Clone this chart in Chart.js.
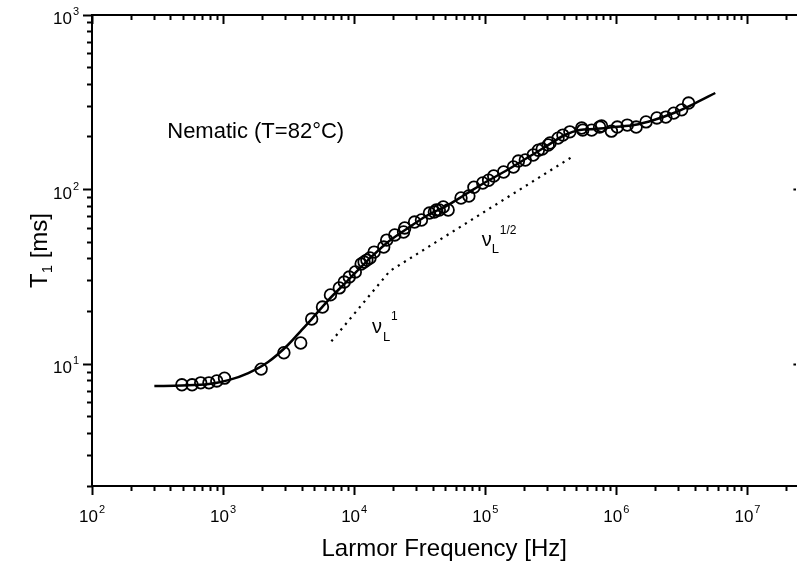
<!DOCTYPE html>
<html>
<head>
<meta charset="utf-8">
<title>T1 Nematic</title>
<script src="https://cdn.jsdelivr.net/npm/chart.js@4.4.0/dist/chart.umd.min.js"></script>
<style>
  html, body { margin: 0; padding: 0; background: #fff; }
  #marco { width: 804px; height: 568px; }
</style>
</head>
<body>
<div id="marco"><canvas id="lienzoGrafica" width="804" height="568"></canvas></div>
<script>
'use strict';

// medidas (frecuencia de Larmor en Hz, T1 en ms)
const frecuencias = [485, 580, 675, 780, 895, 1025, 1950, 2910, 3910, 4740, 5730, 6590, 7700, 8400, 9170,
    10200, 11300, 11900, 12500, 13200, 14200, 16800, 17700, 20400, 23800, 24300, 28900, 32600, 37500, 40900,
    42300, 44600, 47800, 52100, 65300, 75000, 81900, 95700, 106000, 116000, 138000, 164000, 179000, 202000,
    232000, 254000, 272000, 302000, 312000, 359000, 391000, 442000, 544000, 554000, 648000, 745000, 771000,
    917000, 1017000, 1211000, 1416000, 1684000, 2038000, 2384000, 2740000, 3149000, 3556000];
const t1Medidos = [7.6, 7.6, 7.8, 7.8, 8.0, 8.3, 9.35, 11.6, 13.2, 18.1, 21.2, 24.9, 27.3, 29.5, 31.5,
    33.7, 37.4, 38.4, 39.4, 40.5, 43.8, 46.8, 51.3, 54.9, 57.1, 60.2, 65.1, 66.9, 73.3, 74.3,
    76.3, 76.3, 79.4, 76.3, 89.4, 91.8, 103, 109, 113, 119.5, 126, 134.6, 145.6, 147.6,
    157.7, 168, 170.7, 180, 184.7, 197, 205, 214, 225, 219, 219, 228, 231,
    216, 228, 234, 228, 244, 257, 260, 274, 286, 313];

// curva de ajuste
const ajusteFrec = [299, 486, 778, 1100, 1558, 2205, 3121, 3913, 4738, 6255, 8856, 12530, 17740, 25120,
    35560, 50340, 71270, 100900, 142800, 202200, 286200, 405100, 525800, 682300, 965800, 1367000,
    1936000, 2740000, 3879000, 5684000];
const ajusteT1 = [7.48, 7.53, 7.68, 8.09, 8.88, 10.27, 12.85, 15.45, 18.1, 22.96, 29.9, 38.9, 49.4, 59.4,
    70.5, 80.4, 94.2, 110.4, 127.6, 149.5, 175.3, 205.3, 219.3, 222.2, 228.1, 234.2,
    250.2, 274.4, 309, 357.3];

// rectas guia nu^1 y nu^1/2
const guiaFrec = [6700, 18700, 457000];
const guiaT1 = [13.5, 34.1, 153.5];

const decadasX = [1e2, 1e3, 1e4, 1e5, 1e6, 1e7];
const decadasY = [1e1, 1e2, 1e3];

const FUENTE = "'Liberation Sans', Arial, Helvetica, sans-serif";
const X_MIN = 100, X_MAX = 2.363e7;
const Y_MIN = 2, Y_MAX = 1000;

// marcas menores 2..9 de cada decada, dentro del rango
function menores(decadas, min, max) {
    const lista = [];
    decadas.forEach(d => {
        for (let k = 2; k <= 9; k++) {
            const v = d * k;
            if (v >= min && v <= max) lista.push(v);
        }
    });
    return lista;
}
const menoresX = menores([1e2, 1e3, 1e4, 1e5, 1e6, 1e7], X_MIN, X_MAX);
const menoresY = menores([1, 1e1, 1e2], Y_MIN, Y_MAX);

function potencia(ctx, exp, x, y, alinear) {
    ctx.font = '17px ' + FUENTE;
    const wBase = ctx.measureText('10').width;
    ctx.font = '11px ' + FUENTE;
    const wExp = ctx.measureText(String(exp)).width;
    const total = wBase + 1 + wExp;
    const x0 = alinear === 'right' ? x - total : x - total / 2;
    ctx.font = '17px ' + FUENTE;
    ctx.fillText('10', x0, y);
    ctx.font = '11px ' + FUENTE;
    ctx.fillText(String(exp), x0 + wBase + 1, y - 9);
}

const textos = {
    id: 'textos',
    afterDraw(chart) {
        const ctx = chart.ctx;
        const sx = chart.scales.x, sy = chart.scales.y;
        ctx.save();
        ctx.fillStyle = '#000';
        ctx.textAlign = 'left';
        ctx.textBaseline = 'alphabetic';

        decadasX.forEach(v => potencia(ctx, Math.round(Math.log10(v)), sx.getPixelForValue(v), 522, 'center'));
        decadasY.forEach(v => potencia(ctx, Math.round(Math.log10(v)), 79, sy.getPixelForValue(v) + 9, 'right'));

        // titulo eje Y con subindice
        ctx.save();
        ctx.translate(47, (chart.chartArea.top + chart.chartArea.bottom) / 2);
        ctx.rotate(-Math.PI / 2);
        ctx.font = '24px ' + FUENTE;
        const wT = ctx.measureText('T').width;
        const wR = ctx.measureText(' [ms]').width;
        ctx.font = '15px ' + FUENTE;
        const w1 = ctx.measureText('1').width;
        const x0 = -(wT + w1 + wR) / 2;
        ctx.font = '24px ' + FUENTE;
        ctx.fillText('T', x0, 0);
        ctx.fillText(' [ms]', x0 + wT + w1, 0);
        ctx.font = '15px ' + FUENTE;
        ctx.fillText('1', x0 + wT, 5);
        ctx.restore();

        // Nematic
        ctx.font = '22px ' + FUENTE;
        ctx.fillText('Nematic (T=82°C)', sx.getPixelForValue(375), sy.getPixelForValue(197));

        // nu_L^1
        let px = sx.getPixelForValue(13670), py = sy.getPixelForValue(15.06);
        ctx.font = '20px ' + FUENTE;
        ctx.fillText('ν', px, py);
        ctx.font = '13px ' + FUENTE;
        ctx.fillText('L', px + 11, py + 8);
        ctx.font = '12px ' + FUENTE;
        ctx.fillText('1', px + 19, py - 13);

        // nu_L^1/2
        px = sx.getPixelForValue(94100); py = sy.getPixelForValue(47.45);
        ctx.font = '20px ' + FUENTE;
        ctx.fillText('ν', px, py);
        ctx.font = '13px ' + FUENTE;
        ctx.fillText('L', px + 10, py + 7);
        ctx.font = '12px ' + FUENTE;
        ctx.fillText('1/2', px + 18, py - 12);
        ctx.restore();
    }
};

function ejeLog(pos, min, max, valores, largo, peso, tam, conBorde, titulo) {
    const horizontal = pos === 'bottom' || pos === 'top';
    const eje = {
        type: 'logarithmic',
        position: pos,
        min: min,
        max: max,
        weight: peso,
        offset: false,
        afterBuildTicks: (s) => { s.ticks = valores.map(v => ({ value: v })); },
        afterFit: (s) => { if (horizontal) s.height = tam; else s.width = tam; },
        ticks: { display: false },
        grid: {
            drawOnChartArea: false,
            drawTicks: true,
            tickLength: largo,
            tickWidth: 2,
            tickColor: '#000'
        },
        border: { display: conBorde, color: '#000', width: 2 }
    };
    if (titulo) {
        eje.title = {
            display: true,
            text: titulo,
            color: '#000',
            font: { family: FUENTE, size: 24 },
            padding: { top: 0, bottom: 4 }
        };
    }
    return eje;
}

let myChart = null;

function graficaDatos() {
    const ctx = document.getElementById('lienzoGrafica');
    if (myChart != null) myChart.destroy();

    myChart = new Chart(ctx, {
        type: 'scatter',
        data: {
            datasets: [{
                label: 'medidas',
                data: frecuencias.map((f, i) => ({ x: f, y: t1Medidos[i] })),
                showLine: false,
                pointStyle: 'circle',
                pointRadius: 5.8,
                pointBorderWidth: 1.8,
                pointBorderColor: '#000',
                pointBackgroundColor: 'rgba(0,0,0,0)'
            }, {
                label: 'ajuste',
                data: ajusteFrec.map((f, i) => ({ x: f, y: ajusteT1[i] })),
                showLine: true,
                borderColor: '#000',
                borderWidth: 2.5,
                pointRadius: 0,
                cubicInterpolationMode: 'monotone'
            }, {
                label: 'guia',
                data: guiaFrec.map((f, i) => ({ x: f, y: guiaT1[i] })),
                showLine: true,
                borderColor: '#000',
                borderWidth: 2.2,
                borderDash: [2.2, 5],
                pointRadius: 0,
                tension: 0
            }]
        },
        options: {
            responsive: false,
            animation: false,
            devicePixelRatio: 1,
            layout: { padding: { top: 15, right: 0, left: 0, bottom: 0 } },
            plugins: {
                legend: { display: false },
                tooltip: { enabled: false }
            },
            scales: {
                x: ejeLog('bottom', X_MIN, X_MAX, decadasX, 9, 1, 82, true, 'Larmor Frequency [Hz]'),
                xMenor: ejeLog('bottom', X_MIN, X_MAX, menoresX, 5, 0, 0, false),
                xArriba: ejeLog('top', X_MIN, X_MAX, decadasX, -9, 1, 0, true),
                xArribaMenor: ejeLog('top', X_MIN, X_MAX, menoresX, -5, 0, 0, false),
                y: ejeLog('left', Y_MIN, Y_MAX, decadasY, 9, 1, 92, true),
                yMenor: ejeLog('left', Y_MIN, Y_MAX, menoresY, 5, 0, 0, false),
                yDerecha: ejeLog('right', Y_MIN, Y_MAX, decadasY.slice(0, 2), -3, 0, 0, false)
            }
        },
        plugins: [textos]
    });
}

graficaDatos();
</script>
</body>
</html>
